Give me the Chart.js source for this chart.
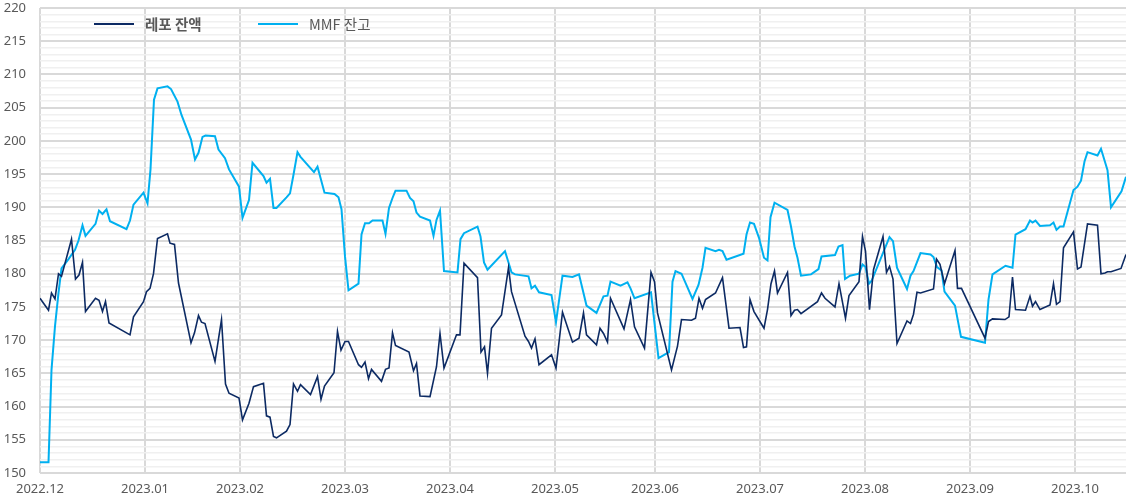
<!DOCTYPE html>
<html>
<head>
<meta charset="utf-8">
<script src="https://cdn.jsdelivr.net/npm/chart.js@4"></script>
<style>
  html, body { margin: 0; padding: 0; background: #fff; }
  #wrap { width: 1126px; height: 502px; position: relative; }
</style>
</head>
<body>
<div id="wrap"><canvas id="myChart"></canvas></div>
<script>
// x = business-day index from 2022.12 start
const monthIdx = [0, 21, 40, 61, 82, 103, 123, 144, 165, 186, 207];
const monthLabels = ["2022.12", "2023.01", "2023.02", "2023.03", "2023.04", "2023.05",
  "2023.06", "2023.07", "2023.08", "2023.09", "2023.10"];

const repoX = [0, 1.7, 2.3, 3, 3.7, 4.3, 6.3, 7.1, 7.8, 8.5, 9.1, 11.1, 11.8, 12.5, 13.1, 13.8,
  18, 18.7, 20.7, 21.3, 22, 22.7, 23.5, 25.5, 26, 26.9, 27.7, 30.2, 30.9, 31.7, 32.3, 33,
  35, 36.3, 37.1, 37.8, 39.8, 40.5, 41.8, 42.7, 44.7, 45.3, 46, 46.7, 47.3, 49.3, 50, 50.7,
  51.5, 52.1, 54.1, 55.5, 56.2, 56.9, 58.8, 59.5, 60.2, 61, 61.7, 63.7, 64.3, 65, 65.7, 66.3,
  68.3, 69.1, 69.8, 70.5, 71.1, 73.8, 74.7, 75.3, 76, 78, 79.3, 80, 80.8, 83.3, 84, 84.8,
  87.5, 88.2, 88.9, 89.5, 90.3, 92.3, 93.7, 94.3, 97, 97.7, 98.3, 99, 99.8, 102.3, 103.2,
  104.5, 106.5, 107.8, 108.7, 109.3, 111.3, 112, 112.7, 113.5, 114.1, 116.8, 118.1, 118.9,
  120.9, 122.2, 122.9, 123.5, 126.3, 127.5, 128.3, 130.3, 131.1, 131.8, 132.5, 133.1, 135.1,
  136.5, 137.8, 140, 140.7, 141.3, 142, 142.8, 144.8, 145.5, 146.2, 146.9, 147.5, 149.5,
  150.2, 150.9, 151.5, 152.2, 155.5, 156.3, 157, 159, 159.8, 161.1, 161.8, 163.8, 164.5,
  165.1, 165.9, 166.7, 168.6, 169.3, 169.9, 170.6, 171.4, 173.4, 174.1, 174.7, 175.4, 176.1,
  178.7, 179.3, 180, 180.9, 183, 183.5, 184.3, 189, 189.7, 190.5, 193, 193.8, 194.5, 195.1,
  197.1, 198, 198.5, 199.1, 200, 202, 202.7, 203.3, 204, 204.7, 206.7, 207.5, 208.2, 209.5,
  211.5, 212.2, 213, 213.5, 214.2, 216.2, 217.2];
const repoY = [176.3, 174.5, 177.1, 176.2, 180.0, 179.6, 185.2, 179.2, 179.8, 181.7, 174.3, 176.3,
  176.0, 174.3, 175.8, 172.6, 170.8, 173.5, 175.8, 177.3, 177.8, 180.0, 185.3, 186.0, 184.6,
  184.4, 178.6, 169.6, 171.1, 173.7, 172.7, 172.5, 166.8, 173.1, 163.4, 162.0, 161.3, 158.0,
  160.5, 163.0, 163.5, 158.6, 158.4, 155.5, 155.3, 156.3, 157.3, 163.4, 162.3, 163.3, 161.8,
  164.5, 161.1, 163.1, 165.1, 171.3, 168.5, 169.8, 169.8, 166.3, 165.9, 166.7, 164.2, 165.6,
  163.8, 165.6, 165.8, 171.1, 169.2, 168.2, 165.4, 166.5, 161.6, 161.5, 166.0, 171.0, 165.8,
  170.8, 170.8, 181.6, 179.4, 168.2, 169.0, 165.0, 171.8, 173.8, 180.9, 177.3, 170.6, 169.8,
  168.8, 170.2, 166.3, 167.8, 165.8, 174.2, 169.7, 170.3, 174.1, 170.8, 169.3, 171.8, 171.0,
  169.7, 176.3, 171.7, 176.1, 172.0, 168.8, 180.2, 178.8, 174.1, 165.5, 169.1, 173.1, 173.0,
  173.3, 176.3, 174.8, 176.1, 177.1, 179.4, 171.8, 171.9, 168.9, 169.0, 176.1, 174.3, 171.8,
  174.6, 178.5, 180.4, 177.1, 180.2, 173.7, 174.5, 174.6, 174.0, 175.8, 177.1, 176.3, 175.0,
  178.5, 173.3, 176.7, 178.8, 185.6, 183.4, 174.6, 180.6, 185.6, 180.2, 181.1, 179.2, 169.5,
  172.9, 172.5, 173.9, 177.2, 177.1, 177.7, 182.2, 181.4, 178.5, 183.5, 177.8, 177.8, 170.3,
  172.8, 173.2, 173.1, 173.5, 179.5, 174.6, 174.5, 176.6, 175.1, 175.8, 174.6, 175.3, 178.5,
  175.4, 175.8, 183.9, 186.3, 180.7, 181.0, 187.5, 187.3, 180.0, 180.1, 180.3, 180.3, 180.8,
  182.9];

const mmfX = [0, 1.7, 2.3, 3, 3.7, 4.3, 5.7, 7, 7.7, 8.5, 9.1, 11.1, 11.8, 12.5, 13.3, 14, 17.3,
  18, 18.7, 20.7, 21.5, 22.1, 22.8, 23.5, 25.5, 26.2, 27.5, 28.3, 30.2, 31, 31.7, 32.5, 33.1,
  35, 35.7, 37, 37.8, 39.8, 40.5, 41.8, 42.5, 44.7, 45.3, 46, 46.7, 47.3, 49.3, 50, 50.7, 51.5,
  52.1, 54.8, 55.5, 56.9, 58.9, 59.7, 60.3, 61, 61.7, 63.7, 64.3, 65, 65.8, 66.5, 68.5, 69.1,
  69.8, 70.5, 71.1, 73.3, 74, 74.7, 75.3, 76, 78, 78.7, 79.3, 80, 80.8, 83.5, 84.1, 84.8, 87.5,
  88.1, 88.8, 89.5, 93, 93.7, 94.3, 95, 97.7, 98.3, 99, 99.8, 102.3, 103.2, 104.5, 106.5, 107.8,
  109.3, 111.3, 112.7, 113.5, 114.1, 116.1, 117.5, 118.1, 118.9, 122.2, 123.7, 125.8, 126.5,
  127.1, 128.3, 130.5, 131.7, 132.5, 133.1, 135.1, 135.8, 136.5, 137.3, 140.7, 141.3, 142,
  142.8, 143.8, 144.8, 145.5, 146.1, 146.9, 149.5, 150.2, 150.9, 151.5, 152.2, 154.2, 155.7,
  156.3, 159, 159.7, 160.5, 161, 162, 163.8, 164.5, 165.1, 165.8, 166.3, 169.9, 170.6, 171.4,
  173.4, 174.1, 174.7, 176.1, 178.1, 178.7, 179.4, 180.3, 180.9, 183, 184.2, 189, 189.7, 190.5,
  193.1, 194.5, 195.1, 197.1, 198, 198.5, 199.1, 200, 202, 202.7, 203.3, 204, 204.7, 206.7,
  207.5, 208.2, 208.9, 209.5, 211.5, 212.2, 213.5, 214.2, 216.3, 217.2];
const mmfY = [151.6, 151.6, 165.5, 172.1, 177.1, 180.8, 182.2, 183.6, 185.0, 187.3, 185.7, 187.5,
  189.5, 189.0, 189.7, 187.9, 186.7, 188.0, 190.4, 192.2, 190.6, 195.7, 206.2, 207.9, 208.2,
  207.8, 205.9, 203.9, 200.2, 197.2, 198.2, 200.6, 200.8, 200.7, 198.7, 197.4, 195.7, 193.1,
  188.4, 191.1, 196.7, 194.7, 193.7, 194.3, 189.9, 189.9, 191.5, 192.1, 194.9, 198.3, 197.6,
  195.3, 196.1, 192.2, 192.0, 191.5, 189.7, 182.6, 177.5, 178.5, 185.9, 187.6, 187.6, 188.0,
  188.0, 186.0, 189.9, 191.4, 192.5, 192.5, 191.4, 190.9, 189.2, 188.6, 188.0, 185.7, 188.1,
  189.5, 180.4, 180.2, 185.2, 186.1, 187.1, 185.6, 181.7, 180.6, 183.4, 181.7, 180.2, 179.9,
  179.6, 177.8, 178.2, 177.2, 176.8, 172.7, 179.7, 179.5, 179.9, 175.2, 174.1, 176.6, 176.7,
  178.8, 178.2, 178.7, 177.8, 176.3, 177.2, 167.3, 168.2, 178.8, 180.4, 180.0, 176.2, 178.3,
  180.9, 183.9, 183.4, 183.6, 183.4, 182.1, 183.0, 185.9, 187.7, 187.5, 185.4, 182.4, 182.0,
  188.5, 190.7, 189.6, 187.1, 184.1, 182.4, 179.7, 179.9, 180.7, 182.6, 182.8, 184.1, 184.3,
  179.2, 179.7, 180.0, 181.4, 181.0, 178.5, 178.9, 185.5, 184.9, 180.9, 177.7, 179.7, 180.4,
  183.1, 182.9, 182.5, 181.0, 180.5, 177.3, 175.2, 170.5, 169.6, 176.1, 179.9, 181.2, 180.9,
  185.9, 186.7, 188.0, 187.7, 188.0, 187.2, 187.3, 187.7, 186.6, 187.1, 187.1, 192.6, 193.1,
  194.0, 196.9, 198.3, 197.8, 198.8, 195.6, 190.0, 192.4, 194.6];

const toPoints = (xs, ys) => xs.map((x, i) => ({ x: x, y: ys[i] }));

const legendPlugin = {
  id: "topLegend",
  afterDraw(chart) {
    const c = chart.ctx;
    const items = [
      { x: 94, ds: chart.data.datasets[0], bold: true },
      { x: 258, ds: chart.data.datasets[1], bold: false },
    ];
    c.save();
    items.forEach((it) => {
      c.strokeStyle = it.ds.borderColor;
      c.lineWidth = 2;
      c.beginPath();
      c.moveTo(it.x, 24);
      c.lineTo(it.x + 40, 24);
      c.stroke();
      c.fillStyle = "#595959";
      c.font = (it.bold ? "bold " : "") + '14.5px "Noto Sans CJK KR", "Noto Sans"';
      c.textBaseline = "middle";
      c.fillText(it.ds.label, it.x + 51, 24);
    });
    c.restore();
  },
};

const ctx = document.getElementById("myChart");
new Chart(ctx, {
  type: "line",
  data: {
    datasets: [
      {
        label: "레포 잔액",
        data: toPoints(repoX, repoY),
        borderColor: "#0c2a63",
        borderWidth: 1.6,
        pointRadius: 0,
        tension: 0,
      },
      {
        label: "MMF 잔고",
        data: toPoints(mmfX, mmfY),
        borderColor: "#00b0f0",
        borderWidth: 2,
        pointRadius: 0,
        tension: 0,
      },
    ],
  },
  options: {
    responsive: true,
    maintainAspectRatio: false,
    animation: false,
    layout: { padding: { top: 8, right: 0, left: 0, bottom: 0 } },
    plugins: { legend: { display: false }, tooltip: { enabled: false } },
    scales: {
      x: {
        type: "linear",
        min: 0,
        max: 217.2,
        afterBuildTicks: (scale) => {
          scale.ticks = monthIdx.map((v) => ({ value: v }));
        },
        afterFit: (scale) => {
          scale.height = 29;
          scale.paddingLeft = 0;
          scale.paddingRight = 0;
        },
        ticks: {
          autoSkip: false,
          maxRotation: 0,
          padding: 8,
          color: "#595959",
          font: { family: '"Noto Sans"', size: 13 },
          callback: (v) => monthLabels[monthIdx.indexOf(v)],
        },
        grid: { color: "#d9d9d9", lineWidth: 2, drawTicks: false },
        border: { display: false },
      },
      y: {
        min: 150,
        max: 220,
        afterBuildTicks: (scale) => {
          const t = [];
          for (let v = 150; v <= 220; v++) t.push({ value: v });
          scale.ticks = t;
        },
        afterFit: (scale) => {
          scale.width = 40;
          scale.paddingTop = 0;
          scale.paddingBottom = 0;
        },
        ticks: {
          autoSkip: false,
          padding: 14,
          color: "#595959",
          font: { family: '"Noto Sans"', size: 13 },
          callback: (v) => (v % 5 === 0 ? String(v) : ""),
        },
        grid: {
          drawTicks: false,
          color: (c) => (c.tick && c.tick.value % 5 === 0 ? "#d9d9d9" : "#f0f0f0"),
          lineWidth: (c) => (c.tick && c.tick.value % 5 === 0 ? 2 : 1.5),
        },
        border: { display: false },
      },
    },
  },
  plugins: [legendPlugin],
});
</script>
</body>
</html>
